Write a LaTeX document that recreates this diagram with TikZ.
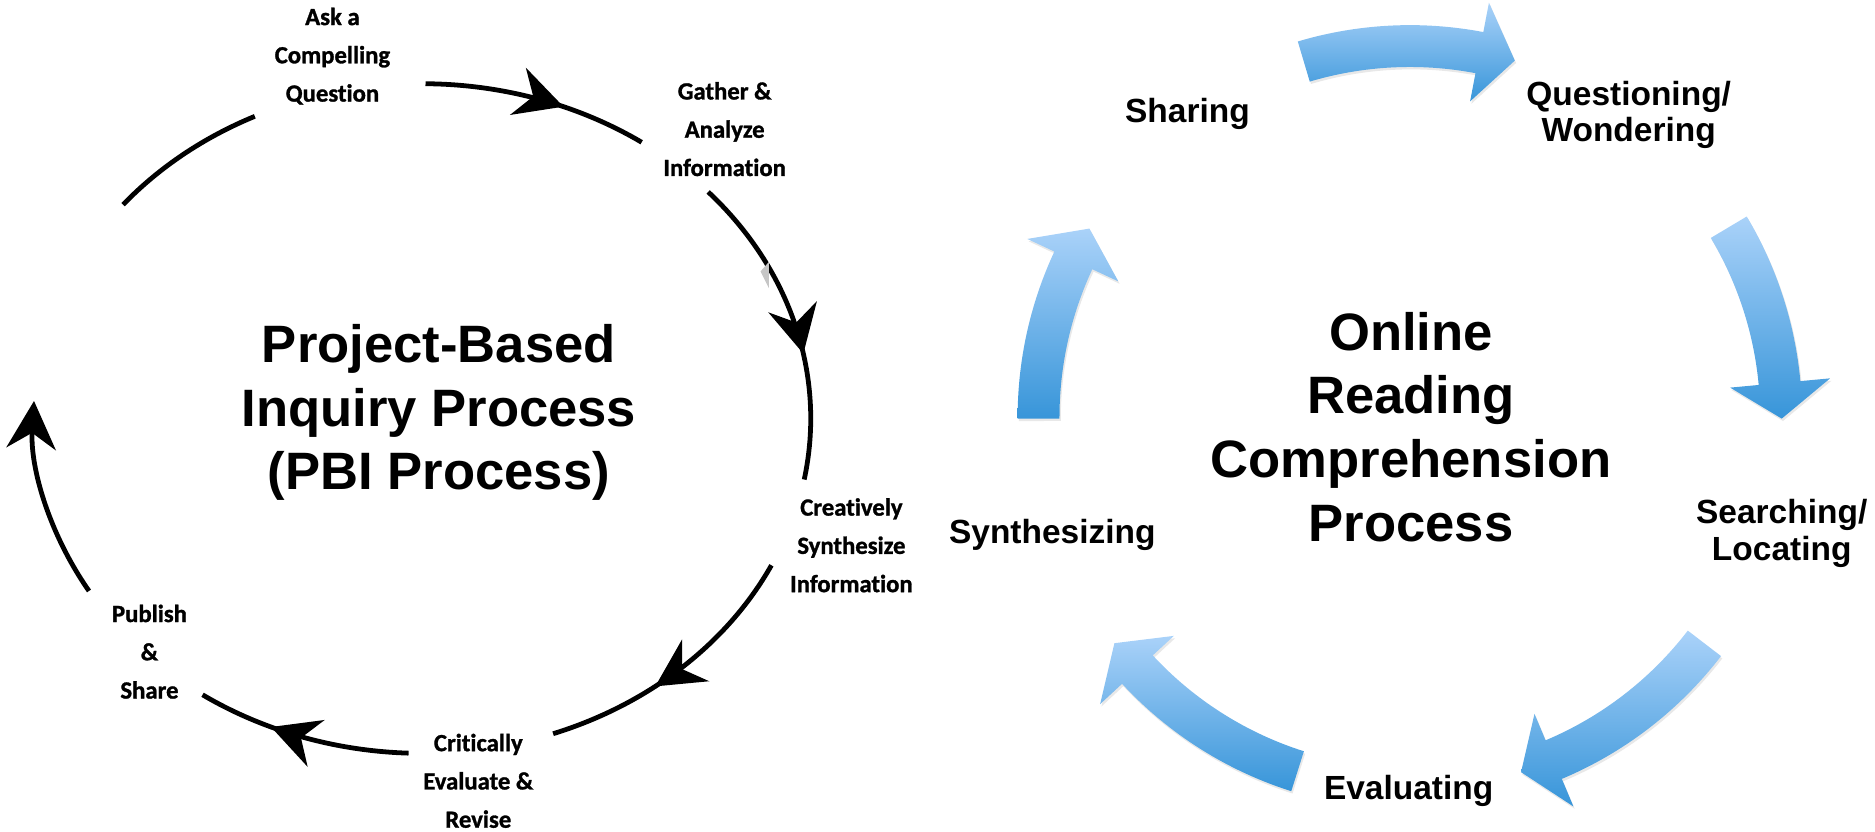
\documentclass[tikz,border=0pt]{standalone}
\usepackage{fontspec}
\setmainfont{Liberation Sans}
\newfontfamily\stepfont[Ligatures=NoCommon,BoldFeatures={FakeBold=1.2}]{Carlito}
\usetikzlibrary{arrows.meta,decorations.markings,shadows}
\definecolor{arrowtop}{RGB}{170,210,249}
\definecolor{arrowbot}{RGB}{55,149,217}

\begin{document}
\begin{tikzpicture}[x=0.75pt,y=0.75pt,yscale=-1,xscale=1,
  cycleline/.style={line width=3pt},
  midtip/.style={postaction={decorate},decoration={markings,mark=at position #1 with {\arrow{Stealth[length=30pt,width=31pt,inset=10pt]}}}},
  steplabel/.style={font=\stepfont\bfseries\fontsize{15.5}{24}\selectfont,align=center,inner sep=0.75pt},
  readlabel/.style={font=\bfseries\fontsize{21}{23}\selectfont,align=center,inner sep=0.75pt},
  bigtitle/.style={font=\bfseries\fontsize{33}{40}\selectfont,align=center,inner sep=0.75pt},
  cyclearrow/.style={top color=arrowtop,bottom color=arrowbot,drop shadow={opacity=0.18,shadow xshift=0.8pt,shadow yshift=-1.5pt}}
]
\useasboundingbox (0,0) rectangle (1568,695);

\coordinate (lc) at (353,350);

\draw[cycleline] ([shift={(-140.3:325 and 280)}]lc) arc[start angle=-140.3,end angle=-115.5,x radius=325,y radius=280];
\draw[cycleline,midtip=0.62] ([shift={(-89.5:325 and 280)}]lc) arc[start angle=-89.5,end angle=-55.6,x radius=325,y radius=280];
\draw[cycleline,midtip=0.6] ([shift={(-42.6:325 and 280)}]lc) arc[start angle=-42.6,end angle=10.5,x radius=325,y radius=280];
\draw[cycleline,midtip=0.6] ([shift={(26:325 and 280)}]lc) arc[start angle=26,end angle=70.3,x radius=325,y radius=280];
\draw[cycleline,midtip=0.65] ([shift={(92:325 and 280)}]lc) arc[start angle=92,end angle=124.4,x radius=325,y radius=280];
\draw[cycleline,-{Stealth[length=30pt,width=31pt,inset=10pt]}] ([shift={(149:325 and 280)}]lc) arc[start angle=149,end angle=183,x radius=325,y radius=280];
\fill[gray!45] (643,219) -- (636,227) -- (643,241) -- cycle;

\node[steplabel] (ask) at (278,47) {Ask a\\Compelling\\Question};
\node[steplabel] (gather) at (606,108) {Gather \&\\Analyze\\Information};
\node[steplabel] (create) at (712,456) {Creatively\\Synthesize\\Information};
\node[steplabel] (critic) at (400,653) {Critically\\Evaluate \&\\Revise};
\node[steplabel] (publish) at (125,545) {Publish\\\&\\Share};
\node[bigtitle] (pbi) at (367,345) {Project-Based\\Inquiry Process\\(PBI Process)};

\begin{scope}[shift={(1179,349)}]
\path[cyclearrow] (-106.6:328) arc[start angle=-106.6,end angle=-79.2,radius=328] -- (-79.2:353) -- (-73.6:311) -- (-79.2:269) -- (-79.2:293) arc[start angle=-79.2,end angle=-106.6,radius=293] -- cycle;
\path[cyclearrow] (-30.8:328) arc[start angle=-30.8,end angle=-5.3,radius=328] -- (-5.3:353) -- (0.2:311) -- (-5.3:269) -- (-5.3:293) arc[start angle=-5.3,end angle=-30.8,radius=293] -- cycle;
\path[cyclearrow] (37.5:328) arc[start angle=37.5,end angle=67.2,radius=328] -- (67.2:353) -- (72.6:311) -- (67.2:269) -- (67.2:293) arc[start angle=67.2,end angle=37.5,radius=293] -- cycle;
\path[cyclearrow] (107.6:328) arc[start angle=107.6,end angle=137.2,radius=328] -- (137.2:353) -- (142.6:311) -- (137.2:269) -- (137.2:293) arc[start angle=137.2,end angle=107.6,radius=293] -- cycle;
\path[cyclearrow] (179.8:328) arc[start angle=179.8,end angle=205,radius=328] -- (205:353) -- (210.5:311) -- (205:269) -- (205:293) arc[start angle=205,end angle=179.8,radius=293] -- cycle;
\end{scope}

\node[readlabel] (sharing) at (993,95) {Sharing};
\node[readlabel] (question) at (1362,96) {Questioning/\\Wondering};
\node[readlabel] (search) at (1490,446) {Searching/\\Locating};
\node[readlabel] (evaluate) at (1178,661) {Evaluating};
\node[readlabel] (synth) at (880,447) {Synthesizing};
\node[bigtitle] (orc) at (1180,357) {Online\\Reading\\Comprehension\\Process};

\end{tikzpicture}
\end{document}
